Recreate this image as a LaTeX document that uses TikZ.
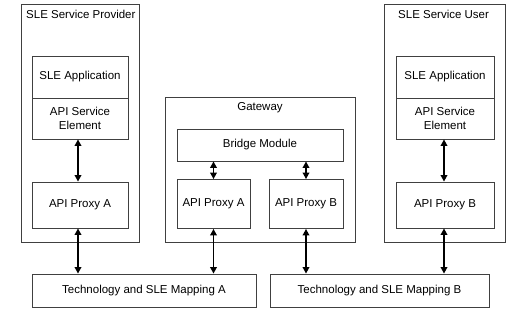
\documentclass[tikz,border=0pt]{standalone}
\usepackage{fontspec}
\setmainfont{Liberation Sans}
\usetikzlibrary{arrows.meta}
\begin{document}
\begin{tikzpicture}[x=1pt,y=-1pt,
  box/.style={draw=black!75,line width=0.8pt,rectangle,inner sep=0pt,align=center,font=\fontsize{11.5}{13.5}\selectfont},
  link/.style={line width=1.8pt,{Triangle[length=6.5pt,width=6.5pt]}-{Triangle[length=6.5pt,width=6.5pt]}},
  lbl/.style={font=\fontsize{11.5}{13.5}\selectfont,inner sep=0pt}]
\useasboundingbox (0,0) rectangle (506,324);
% Provider
\node[box,minimum width=118pt,minimum height=238pt] (prov) at (80,123) {};
\node[lbl,anchor=north west] (provlbl) at (26,10) {SLE Service Provider};
\node[box,minimum width=96pt,minimum height=42pt] (papp) at (80,77) {SLE Application};
\node[box,minimum width=96pt,minimum height=41pt] (pase) at (80,118.5) {API Service\\Element};
\node[box,minimum width=96pt,minimum height=46pt] (ppa) at (80,205) {API Proxy A};
% Gateway
\node[box,minimum width=190pt,minimum height=145pt] (gw) at (260,169.5) {};
\node[lbl] (gwlbl) at (260,108) {Gateway};
\node[box,minimum width=166pt,minimum height=32pt] (bm) at (260,145) {Bridge Module};
\node[box,minimum width=73pt,minimum height=49pt] (gwa) at (213.5,204) {API Proxy A};
\node[box,minimum width=74pt,minimum height=49pt] (gwb) at (306,204) {API Proxy B};
% User
\node[box,minimum width=121pt,minimum height=238pt] (user) at (444.5,123) {};
\node[lbl,anchor=north west] (userlbl) at (398,10) {SLE Service User};
\node[box,minimum width=98pt,minimum height=42pt] (uapp) at (445,77) {SLE Application};
\node[box,minimum width=98pt,minimum height=41pt] (uase) at (445,118.5) {API Service\\Element};
\node[box,minimum width=98pt,minimum height=46pt] (upb) at (445,205) {API Proxy B};
% Bottom
\node[box,minimum width=224pt,minimum height=33pt] (mapa) at (144,290.5) {Technology and SLE Mapping A};
\node[box,minimum width=219pt,minimum height=33pt] (mapb) at (379.5,290.5) {Technology and SLE Mapping B};
% Links
\draw[link] ([xshift=-2pt]pase.south) -- ([xshift=-2pt]ppa.north);
\draw[link] ([xshift=-2pt]ppa.south) -- ([xshift=-2pt]ppa.south |- mapa.north);
\draw[link] ([xshift=-1pt]uase.south) -- ([xshift=-1pt]upb.north);
\draw[link] ([xshift=-1pt]upb.south) -- ([xshift=-1pt]upb.south |- mapb.north);
\draw[link] (bm.south -| gwa.south) -- (gwa.north);
\draw[link] (bm.south -| gwb.south) -- (gwb.north);
\draw[link] (gwa.south) -- (gwa.south |- mapa.north);
\draw[link] (gwb.south) -- (gwb.south |- mapb.north);
\end{tikzpicture}
\end{document}
